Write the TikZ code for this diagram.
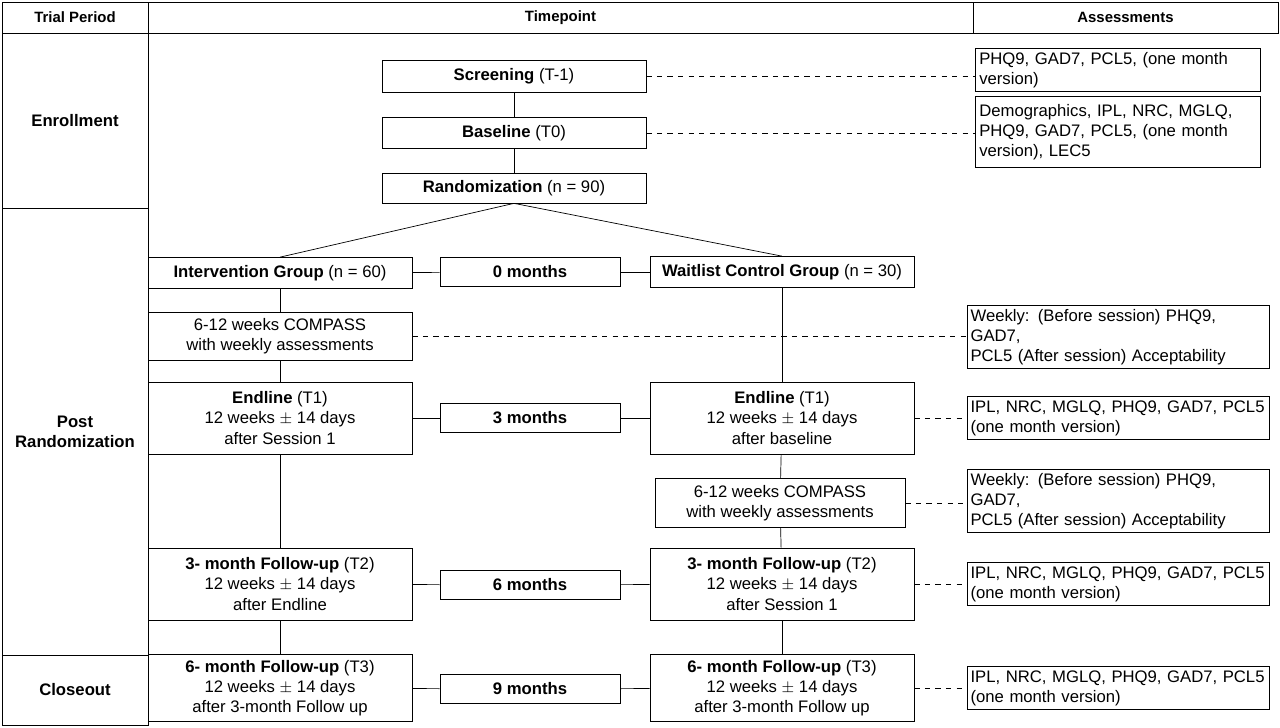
\documentclass[tikz,border=0pt]{standalone}
\usepackage{fontspec}
\setmainfont{Liberation Sans}
\begin{document}
\begin{tikzpicture}[x=0.02cm, y=-0.02cm,
	every node/.style={font=\fontsize{9.5}{11.5}\selectfont},
	box/.style={draw, thin, inner sep=2pt, align=center},
	stage/.style={box, minimum width=5.28cm, minimum height=0.62cm},
	visit/.style={box, minimum width=5.28cm, minimum height=1.44cm},
	month/.style={box, minimum width=3.6cm, minimum height=0.58cm, font=\fontsize{9.5}{11.5}\selectfont\bfseries},
	assess/.style={box, align=left, text width=5.9cm, minimum height=0.74cm},
	link/.style={thin},
	dashlink/.style={thin, dashed}]
	\useasboundingbox (0,0) rectangle (1280,727);
	% Table frame
	\draw[thin] (2,2) rectangle (148,33) node[midway, font=\fontsize{8.5}{10}\selectfont\bfseries] (hPeriod) {Trial Period};
	\draw[thin] (148,2) rectangle (973,33) node[midway, font=\fontsize{8.5}{10}\selectfont\bfseries] (hTime) {Timepoint};
	\draw[thin] (973,2) rectangle (1278,33) node[midway, font=\fontsize{8.5}{10}\selectfont\bfseries] (hAssess) {Assessments};
	\draw[thin] (2,33) rectangle (148,208) node[midway, font=\fontsize{9.5}{11.5}\selectfont\bfseries] (Enroll) {Enrollment};
	\draw[thin] (2,208) rectangle (148,655) node[midway, align=center, font=\fontsize{9.5}{11.5}\selectfont\bfseries] (Post) {Post\\Randomization};
	\draw[thin] (2,655) rectangle (148,725) node[midway, font=\fontsize{9.5}{11.5}\selectfont\bfseries] (Close) {Closeout};
	\draw[thin] (148,33) -- (148,725);
	% Enrollment
	\node[stage, minimum height=0.64cm] (Screening) at (514,76) {\textbf{Screening} (T-1)};
	\node[stage, minimum height=0.62cm] (Baseline) at (514,133) {\textbf{Baseline} (T0)};
	\node[stage, minimum height=0.6cm] (Random) at (514,188) {\textbf{Randomization} (n = 90)};
	% Groups
	\node[stage] (IntGroup) at (280,273) {\textbf{Intervention Group} (n = 60)};
	\node[month] (M0) at (530,272) {0 months};
	\node[stage] (WaitGroup) at (782,272) {\textbf{Waitlist Control Group} (n = 30)};
	\node[stage, minimum height=0.96cm] (IntCompass) at (280,336) {6-12 weeks COMPASS\\with weekly assessments};
	\node[visit] (IntEnd) at (280,418) {\textbf{Endline} (T1)\\12 weeks $\pm$ 14 days\\after Session 1};
	\node[month] (M3) at (530,418) {3 months};
	\node[visit] (WaitEnd) at (782,418) {\textbf{Endline} (T1)\\12 weeks $\pm$ 14 days\\after baseline};
	\node[box, minimum width=5cm, minimum height=0.98cm] (WaitCompass) at (780,503) {6-12 weeks COMPASS\\with weekly assessments};
	\node[visit] (IntFU3) at (280,584) {\textbf{3- month Follow-up} (T2)\\12 weeks $\pm$ 14 days\\after Endline};
	\node[month] (M6) at (530,585) {6 months};
	\node[visit] (WaitFU3) at (782,584) {\textbf{3- month Follow-up} (T2)\\12 weeks $\pm$ 14 days\\after Session 1};
	\node[visit, minimum height=1.34cm] (IntFU6) at (280,688) {\textbf{6- month Follow-up} (T3)\\12 weeks $\pm$ 14 days\\after 3-month Follow up};
	\node[month] (M9) at (530,689) {9 months};
	\node[visit, minimum height=1.34cm] (WaitFU6) at (782,688) {\textbf{6- month Follow-up} (T3)\\12 weeks $\pm$ 14 days\\after 3-month Follow up};
	% Assessments
	\node[assess, text width=5.55cm] (A1) at (1118,70) {PHQ9, GAD7, PCL5, (one month\\version)};
	\node[assess, text width=5.55cm, minimum height=1.42cm] (A2) at (1118,132) {Demographics, IPL, NRC, MGLQ,\\PHQ9, GAD7, PCL5, (one month\\version), LEC5};
	\node[assess] (A3) at (1118,337) {Weekly: (Before session) PHQ9, GAD7,\\PCL5 (After session) Acceptability};
	\node[assess] (A4) at (1118,418) {IPL, NRC, MGLQ, PHQ9, GAD7, PCL5\\(one month version)};
	\node[assess] (A5) at (1118,501) {Weekly: (Before session) PHQ9, GAD7,\\PCL5 (After session) Acceptability};
	\node[assess] (A6) at (1118,584) {IPL, NRC, MGLQ, PHQ9, GAD7, PCL5\\(one month version)};
	\node[assess] (A7) at (1118,688) {IPL, NRC, MGLQ, PHQ9, GAD7, PCL5\\(one month version)};
	% Solid links
	\draw[link] (Screening) -- (Baseline);
	\draw[link] (Baseline) -- (Random);
	\draw[link] (Random.south) -- (IntGroup.north);
	\draw[link] (Random.south) -- (WaitGroup.north);
	\draw[link] (IntGroup) -- (M0);
	\draw[link] (M0) -- (WaitGroup);
	\draw[link] (IntGroup) -- (IntCompass);
	\draw[link] (IntCompass) -- (IntEnd);
	\draw[link] (IntEnd) -- (IntFU3);
	\draw[link] (IntFU3) -- (IntFU6);
	\draw[link] (WaitGroup) -- (WaitEnd);
	\draw[link] (WaitEnd) -- (WaitCompass);
	\draw[link] (WaitCompass) -- (WaitFU3);
	\draw[link] (WaitFU3) -- (WaitFU6);
	\draw[link] (IntEnd) -- (M3);
	\draw[link] (M3) -- (WaitEnd);
	\draw[link] (IntFU3) -- (M6);
	\draw[link] (M6) -- (WaitFU3);
	\draw[link] (IntFU6) -- (M9);
	\draw[link] (M9) -- (WaitFU6);
	% Dashed links
	\draw[dashlink] (Screening) -- (Screening -| A1.west);
	\draw[dashlink] (Baseline) -- (Baseline -| A2.west);
	\draw[dashlink] (IntCompass) -- (IntCompass -| A3.west);
	\draw[dashlink] (WaitEnd) -- (A4);
	\draw[dashlink] (WaitCompass) -- (WaitCompass -| A5.west);
	\draw[dashlink] (WaitFU3) -- (A6);
	\draw[dashlink] (WaitFU6) -- (A7);
\end{tikzpicture}
\end{document}
